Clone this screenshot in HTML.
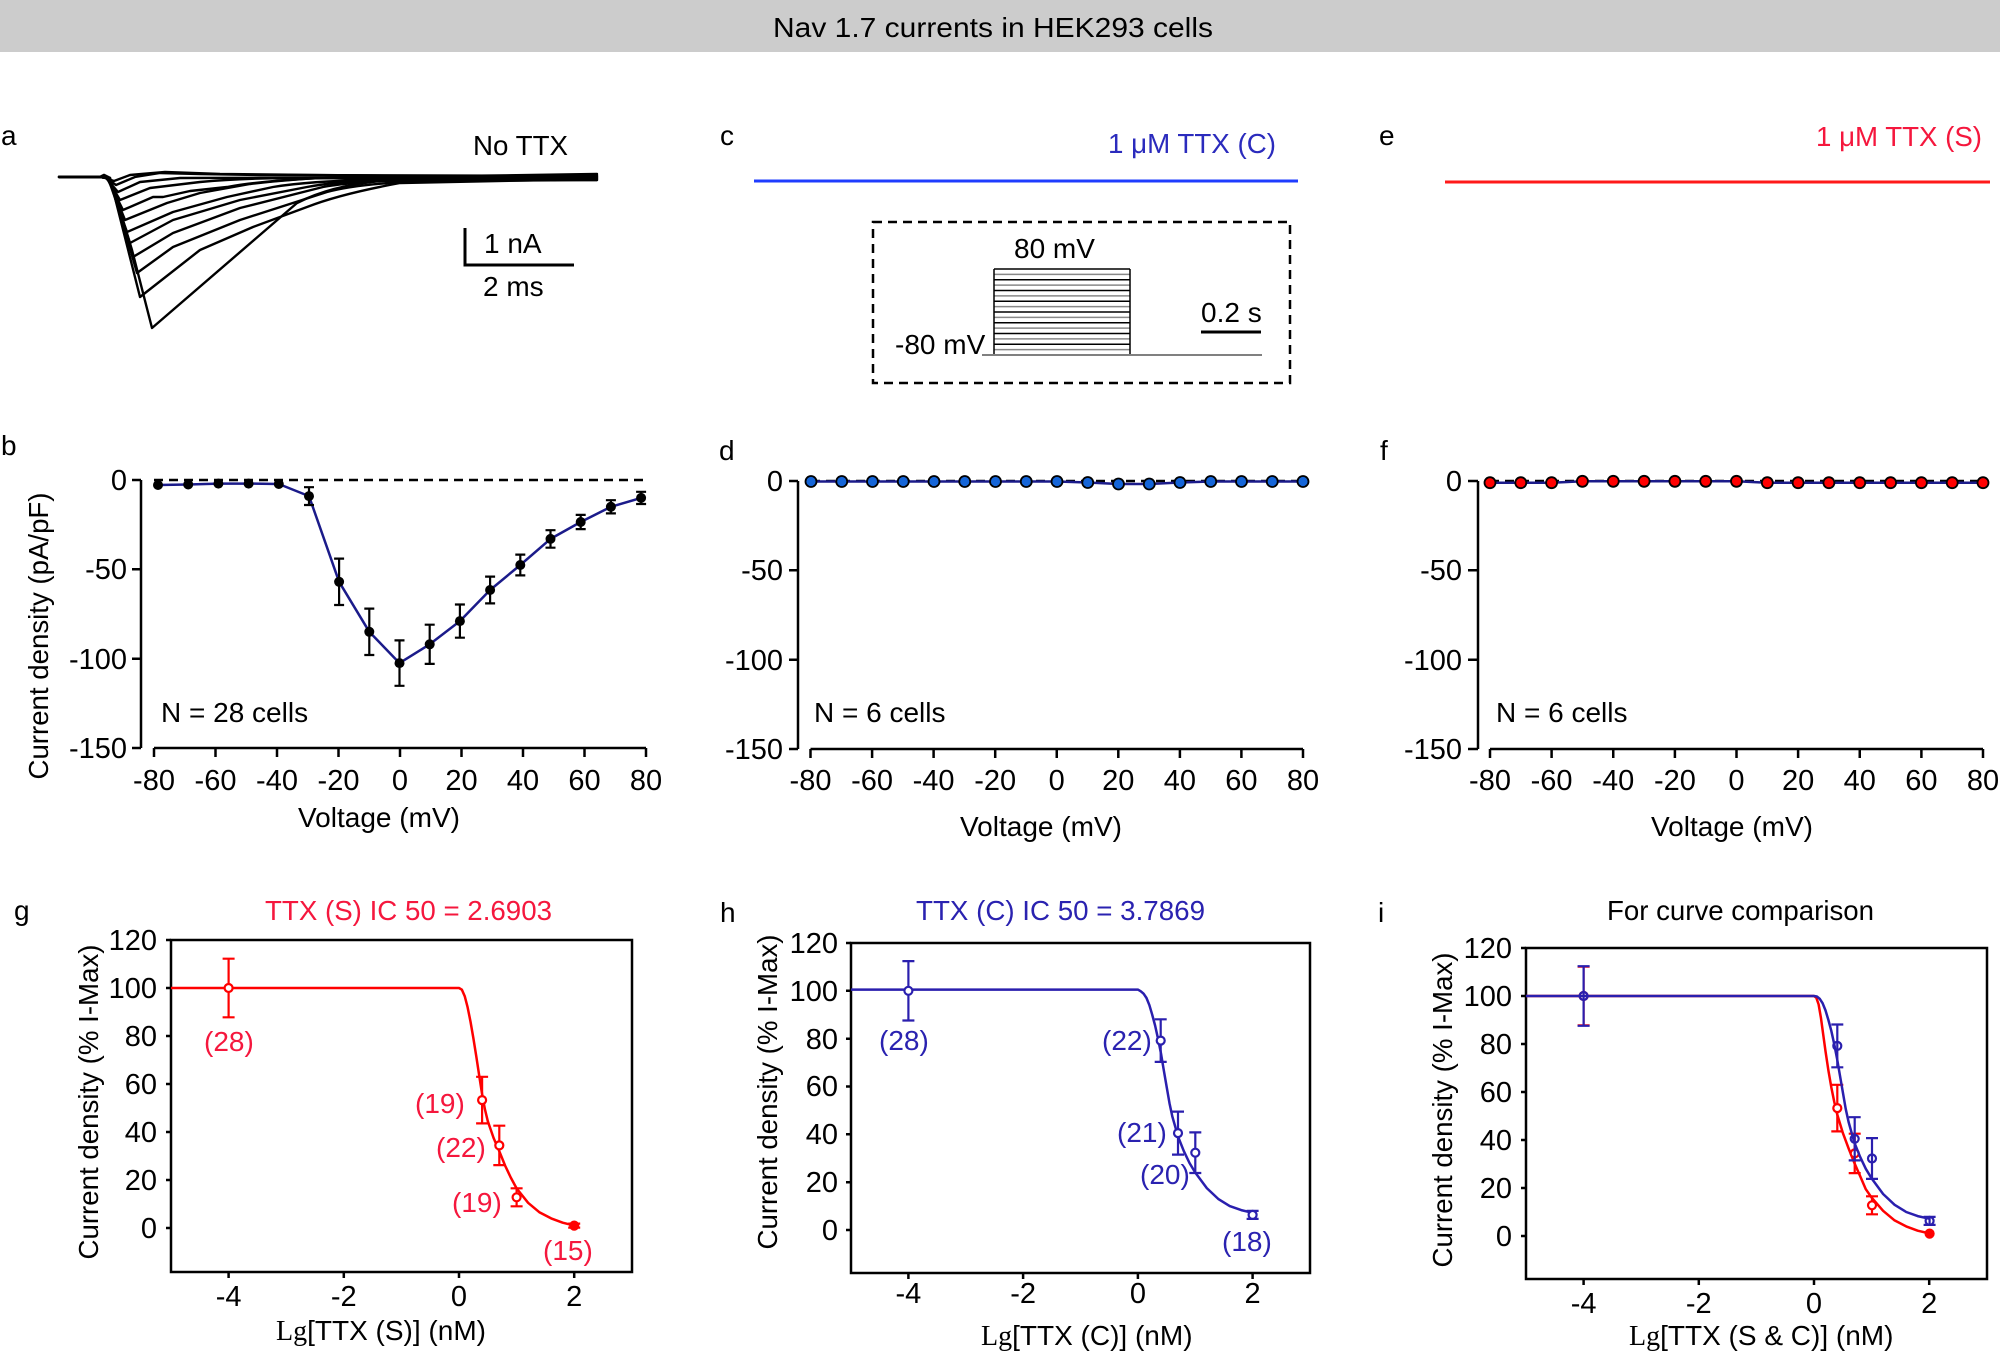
<!DOCTYPE html>
<html>
<head>
<meta charset="utf-8">
<style>
html,body{margin:0;padding:0;background:#fff;}
svg{display:block;}
text{font-family:"Liberation Sans",Arial,sans-serif;font-size:28px;fill:#000;}
.tk{font-size:29px;}
.s{font-family:"Liberation Serif","Times New Roman",serif;}
.ax{stroke:#000;stroke-width:2.5;fill:none;}
.tr{stroke:#000;stroke-width:2.4;fill:none;stroke-linejoin:round;stroke-linecap:round;}
.eb{stroke:#000;stroke-width:2.2;fill:none;}
</style>
</head>
<body>
<svg width="2000" height="1355" viewBox="0 0 2000 1355" xmlns="http://www.w3.org/2000/svg">
<rect x="0" y="0" width="2000" height="1355" fill="#fff"/>
<!-- Header -->
<rect x="0" y="0" width="2000" height="52" fill="#cccccc"/>
<text x="773" y="37" font-size="29" textLength="440" lengthAdjust="spacingAndGlyphs">Nav 1.7 currents in HEK293 cells</text>

<!-- ============ Panel a ============ -->
<text x="1" y="145">a</text>
<text x="473" y="155" textLength="95" lengthAdjust="spacingAndGlyphs">No TTX</text>
<g class="tr">
<path d="M59,177 L100,177 L104,175 L110,178 L132,250 L152,328 L297,203 Q330,186 380,181 L597,177"/>
<path d="M59,177 L100,177 L104,175 L110,178 L140,297 L200,250 L253,227 L307,207 Q340,194 400,183 L597,179"/>
<path d="M59,177 L100,177 L110,178 L137,273 L173,247 L240,220 L327,192 Q360,183 430,181 L597,180"/>
<path d="M59,177 L100,177 L109,178 L133,257 L173,233 L240,208 L323,187 Q350,182 420,179 L597,178"/>
<path d="M59,177 L100,177 L109,178 L130,243 L173,220 L240,200 L307,187 Q340,181 400,178 L597,176"/>
<path d="M59,177 L100,177 L108,178 L127,232 L173,212 L227,197 L273,187 Q310,181 370,180 L597,179"/>
<path d="M59,177 L100,177 L108,178 L125,220 L167,203 L200,193 L250,184 Q290,179 340,177 L597,175"/>
<path d="M59,177 L100,177 L107,178 L123,210 L153,197 L163,197 L190,191 L227,187 Q260,181 320,178 L597,174"/>
<path d="M59,177 L100,177 L107,178 L120,200 L150,188 L200,182 Q240,178 300,178 L597,180"/>
<path d="M59,177 L100,177 L106,178 L118,192 L140,182 L180,178 L597,177"/>
<path d="M59,177 L100,177 L106,178 L116,185 L135,177 L160,173 L200,174 L260,175 L597,176"/>
<path d="M59,177 L100,177 L105,178 L114,181 L130,175 L165,172 L220,174 L597,178"/>
</g>
<path d="M465,228 L465,265 L574,265" stroke="#000" stroke-width="3" fill="none"/>
<text x="484" y="253">1 nA</text>
<text x="483" y="296">2 ms</text>

<!-- ============ Panel c ============ -->
<text x="720" y="145">c</text>
<text x="1108" y="153" style="fill:#2b2bbd" textLength="168" lengthAdjust="spacingAndGlyphs">1 μM TTX (C)</text>
<line x1="754" y1="181" x2="1298" y2="181" stroke="#1f3cff" stroke-width="3"/>
<rect x="873" y="222" width="417" height="161" fill="none" stroke="#000" stroke-width="2.5" stroke-dasharray="9 6"/>
<g stroke-width="1.5">
<line x1="994" y1="269" x2="1130" y2="269" stroke="#000"/>
<line x1="994" y1="274.4" x2="1130" y2="274.4" stroke="#888"/>
<line x1="994" y1="279.75" x2="1130" y2="279.75" stroke="#000"/>
<line x1="994" y1="285.1" x2="1130" y2="285.1" stroke="#888"/>
<line x1="994" y1="290.5" x2="1130" y2="290.5" stroke="#000"/>
<line x1="994" y1="295.9" x2="1130" y2="295.9" stroke="#888"/>
<line x1="994" y1="301.25" x2="1130" y2="301.25" stroke="#000"/>
<line x1="994" y1="306.6" x2="1130" y2="306.6" stroke="#888"/>
<line x1="994" y1="312" x2="1130" y2="312" stroke="#000"/>
<line x1="994" y1="317.4" x2="1130" y2="317.4" stroke="#888"/>
<line x1="994" y1="322.75" x2="1130" y2="322.75" stroke="#000"/>
<line x1="994" y1="328.1" x2="1130" y2="328.1" stroke="#888"/>
<line x1="994" y1="333.5" x2="1130" y2="333.5" stroke="#000"/>
<line x1="994" y1="338.9" x2="1130" y2="338.9" stroke="#888"/>
<line x1="994" y1="344.25" x2="1130" y2="344.25" stroke="#000"/>
<line x1="994" y1="349.6" x2="1130" y2="349.6" stroke="#888"/>
<line x1="994" y1="269" x2="994" y2="355" stroke="#000"/>
<line x1="1130" y1="269" x2="1130" y2="355" stroke="#000"/>
</g>
<line x1="982" y1="355" x2="1262" y2="355" stroke="#808080" stroke-width="2"/>
<text x="1014" y="258">80 mV</text>
<text x="895" y="354">-80 mV</text>
<text x="1201" y="322">0.2 s</text>
<line x1="1201" y1="332" x2="1261" y2="332" stroke="#000" stroke-width="3"/>

<!-- ============ Panel e ============ -->
<text x="1379" y="145">e</text>
<text x="1816" y="146" style="fill:#f5173d" textLength="166" lengthAdjust="spacingAndGlyphs">1 μM TTX (S)</text>
<line x1="1445" y1="182" x2="1990" y2="182" stroke="#ff1a1a" stroke-width="3"/>

<!-- ============ Panel b ============ -->
<text x="1" y="455">b</text>
<path class="ax" d="M141,480 L141,748 M132,480 L141,480 M132,569.3 L141,569.3 M132,658.7 L141,658.7 M132,748 L141,748"/>
<g text-anchor="end" class="tk">
<text class="tk" x="127" y="490">0</text>
<text class="tk" x="127" y="579">-50</text>
<text class="tk" x="127" y="669">-100</text>
<text class="tk" x="127" y="758">-150</text>
</g>
<path class="ax" d="M154,748 L646,748 M154,748 L154,757 M215.5,748 L215.5,757 M277,748 L277,757 M338.5,748 L338.5,757 M400,748 L400,757 M461.5,748 L461.5,757 M523,748 L523,757 M584.5,748 L584.5,757 M646,748 L646,757"/>
<g text-anchor="middle">
<text class="tk" x="154" y="790">-80</text>
<text class="tk" x="215.5" y="790">-60</text>
<text class="tk" x="277" y="790">-40</text>
<text class="tk" x="338.5" y="790">-20</text>
<text class="tk" x="400" y="790">0</text>
<text class="tk" x="461.5" y="790">20</text>
<text class="tk" x="523" y="790">40</text>
<text class="tk" x="584.5" y="790">60</text>
<text class="tk" x="646" y="790">80</text>
</g>
<text x="298" y="827" textLength="162" lengthAdjust="spacingAndGlyphs">Voltage (mV)</text>
<text transform="translate(48,636) rotate(-90)" text-anchor="middle" textLength="287" lengthAdjust="spacingAndGlyphs">Current density (pA/pF)</text>
<line x1="154" y1="480" x2="646" y2="480" stroke="#000" stroke-width="2.5" stroke-dasharray="9 6"/>
<polyline fill="none" stroke="#1b1b8a" stroke-width="2.5" stroke-linejoin="round" points="158,485 188.2,484.5 218.4,483.6 248.6,483.6 278.8,484 309,496.1 339.1,581.8 369.3,631.8 399.5,663.1 429.7,644.3 459.9,621.1 490.1,590 520.3,565 550.5,538.9 580.7,522 610.9,506.8 641.1,497.9"/>
<path class="eb" d="M309,487.2 L309,505 M304,487.2 L314,487.2 M304,505 L314,505
M339.1,558.6 L339.1,605 M334.1,558.6 L344.1,558.6 M334.1,605 L344.1,605
M369.3,608.6 L369.3,655 M364.3,608.6 L374.3,608.6 M364.3,655 L374.3,655
M399.5,640.4 L399.5,685.8 M394.5,640.4 L404.5,640.4 M394.5,685.8 L404.5,685.8
M429.7,624.7 L429.7,663.9 M424.7,624.7 L434.7,624.7 M424.7,663.9 L434.7,663.9
M459.9,604.5 L459.9,637.7 M454.9,604.5 L464.9,604.5 M454.9,637.7 L464.9,637.7
M490.1,576.6 L490.1,603.4 M485.1,576.6 L495.1,576.6 M485.1,603.4 L495.1,603.4
M520.3,554.6 L520.3,575.4 M515.3,554.6 L525.3,554.6 M515.3,575.4 L525.3,575.4
M550.5,530.2 L550.5,547.7 M545.5,530.2 L555.5,530.2 M545.5,547.7 L555.5,547.7
M580.7,514.9 L580.7,529.1 M575.7,514.9 L585.7,514.9 M575.7,529.1 L585.7,529.1
M610.9,500.2 L610.9,513.4 M605.9,500.2 L615.9,500.2 M605.9,513.4 L615.9,513.4
M641.1,491.8 L641.1,504 M636.1,491.8 L646.1,491.8 M636.1,504 L646.1,504"/>
<g fill="#000">
<circle cx="158" cy="485" r="5"/><circle cx="188.2" cy="484.5" r="5"/><circle cx="218.4" cy="483.6" r="5"/><circle cx="248.6" cy="483.6" r="5"/><circle cx="278.8" cy="484" r="5"/><circle cx="309" cy="496.1" r="5"/><circle cx="339.1" cy="581.8" r="5"/><circle cx="369.3" cy="631.8" r="5"/><circle cx="399.5" cy="663.1" r="5"/><circle cx="429.7" cy="644.3" r="5"/><circle cx="459.9" cy="621.1" r="5"/><circle cx="490.1" cy="590" r="5"/><circle cx="520.3" cy="565" r="5"/><circle cx="550.5" cy="538.9" r="5"/><circle cx="580.7" cy="522" r="5"/><circle cx="610.9" cy="506.8" r="5"/><circle cx="641.1" cy="497.9" r="5"/>
</g>
<text x="161" y="722">N = 28 cells</text>

<!-- ============ Panel d ============ -->
<text x="719" y="460">d</text>
<path class="ax" d="M798,481 L798,749 M789,481 L798,481 M789,570.3 L798,570.3 M789,659.7 L798,659.7 M789,749 L798,749"/>
<g text-anchor="end">
<text class="tk" x="783" y="491">0</text>
<text class="tk" x="783" y="580">-50</text>
<text class="tk" x="783" y="670">-100</text>
<text class="tk" x="783" y="759">-150</text>
</g>
<path class="ax" d="M810.5,749 L1303,749 M810.5,749 L810.5,758 M872.1,749 L872.1,758 M933.6,749 L933.6,758 M995.2,749 L995.2,758 M1056.75,749 L1056.75,758 M1118.3,749 L1118.3,758 M1179.9,749 L1179.9,758 M1241.4,749 L1241.4,758 M1303,749 L1303,758"/>
<g text-anchor="middle">
<text class="tk" x="810.5" y="790">-80</text>
<text class="tk" x="872.1" y="790">-60</text>
<text class="tk" x="933.6" y="790">-40</text>
<text class="tk" x="995.2" y="790">-20</text>
<text class="tk" x="1056.75" y="790">0</text>
<text class="tk" x="1118.3" y="790">20</text>
<text class="tk" x="1179.9" y="790">40</text>
<text class="tk" x="1241.4" y="790">60</text>
<text class="tk" x="1303" y="790">80</text>
</g>
<text x="960" y="836" textLength="162" lengthAdjust="spacingAndGlyphs">Voltage (mV)</text>
<line x1="811" y1="481" x2="1303" y2="481" stroke="#000" stroke-width="2.5" stroke-dasharray="9 6"/>
<polyline fill="none" stroke="#1b1b8a" stroke-width="2.5" points="811,481.5 841.75,481.5 872.5,481.5 903.25,481.5 934,481.5 964.75,481.5 995.5,481.5 1026.25,481.5 1057,481.5 1087.75,482.5 1118.5,484 1149.25,484 1180,482.5 1210.75,481.5 1241.5,481.5 1272.25,481.5 1303,481.5"/>
<g fill="#1565d8" stroke="#000" stroke-width="1.8">
<circle cx="811" cy="481.5" r="5.5"/><circle cx="841.75" cy="481.5" r="5.5"/><circle cx="872.5" cy="481.5" r="5.5"/><circle cx="903.25" cy="481.5" r="5.5"/><circle cx="934" cy="481.5" r="5.5"/><circle cx="964.75" cy="481.5" r="5.5"/><circle cx="995.5" cy="481.5" r="5.5"/><circle cx="1026.25" cy="481.5" r="5.5"/><circle cx="1057" cy="481.5" r="5.5"/><circle cx="1087.75" cy="482.5" r="5.5"/><circle cx="1118.5" cy="484" r="5.5"/><circle cx="1149.25" cy="484" r="5.5"/><circle cx="1180" cy="482.5" r="5.5"/><circle cx="1210.75" cy="481.5" r="5.5"/><circle cx="1241.5" cy="481.5" r="5.5"/><circle cx="1272.25" cy="481.5" r="5.5"/><circle cx="1303" cy="481.5" r="5.5"/>
</g>
<text x="814" y="722">N = 6 cells</text>

<!-- ============ Panel f ============ -->
<text x="1380" y="460">f</text>
<path class="ax" d="M1478,481 L1478,749 M1468,481 L1478,481 M1468,570.3 L1478,570.3 M1468,659.7 L1478,659.7 M1468,749 L1478,749"/>
<g text-anchor="end">
<text class="tk" x="1462" y="491">0</text>
<text class="tk" x="1462" y="580">-50</text>
<text class="tk" x="1462" y="670">-100</text>
<text class="tk" x="1462" y="759">-150</text>
</g>
<path class="ax" d="M1490,749 L1983,749 M1490,749 L1490,758 M1551.6,749 L1551.6,758 M1613.25,749 L1613.25,758 M1674.9,749 L1674.9,758 M1736.5,749 L1736.5,758 M1798.1,749 L1798.1,758 M1859.75,749 L1859.75,758 M1921.4,749 L1921.4,758 M1983,749 L1983,758"/>
<g text-anchor="middle">
<text class="tk" x="1490" y="790">-80</text>
<text class="tk" x="1551.6" y="790">-60</text>
<text class="tk" x="1613.25" y="790">-40</text>
<text class="tk" x="1674.9" y="790">-20</text>
<text class="tk" x="1736.5" y="790">0</text>
<text class="tk" x="1798.1" y="790">20</text>
<text class="tk" x="1859.75" y="790">40</text>
<text class="tk" x="1921.4" y="790">60</text>
<text class="tk" x="1983" y="790">80</text>
</g>
<text x="1651" y="836" textLength="162" lengthAdjust="spacingAndGlyphs">Voltage (mV)</text>
<line x1="1490" y1="481" x2="1983" y2="481" stroke="#000" stroke-width="2.5" stroke-dasharray="9 6"/>
<polyline fill="none" stroke="#1b1b8a" stroke-width="2.5" points="1490,482.7 1520.8,482.7 1551.6,482.7 1582.4,481.3 1613.25,481.3 1644.1,481.3 1674.9,481.3 1705.7,481.3 1736.5,481.3 1767.3,482.7 1798.1,482.7 1828.9,482.7 1859.75,482.7 1890.6,482.7 1921.4,482.7 1952.2,482.7 1983,482.7"/>
<g fill="#ff0000" stroke="#000" stroke-width="1.8">
<circle cx="1490" cy="482.7" r="5.5"/><circle cx="1520.8" cy="482.7" r="5.5"/><circle cx="1551.6" cy="482.7" r="5.5"/><circle cx="1582.4" cy="481.3" r="5.5"/><circle cx="1613.25" cy="481.3" r="5.5"/><circle cx="1644.1" cy="481.3" r="5.5"/><circle cx="1674.9" cy="481.3" r="5.5"/><circle cx="1705.7" cy="481.3" r="5.5"/><circle cx="1736.5" cy="481.3" r="5.5"/><circle cx="1767.3" cy="482.7" r="5.5"/><circle cx="1798.1" cy="482.7" r="5.5"/><circle cx="1828.9" cy="482.7" r="5.5"/><circle cx="1859.75" cy="482.7" r="5.5"/><circle cx="1890.6" cy="482.7" r="5.5"/><circle cx="1921.4" cy="482.7" r="5.5"/><circle cx="1952.2" cy="482.7" r="5.5"/><circle cx="1983" cy="482.7" r="5.5"/>
</g>
<text x="1496" y="722">N = 6 cells</text>

<!-- ============ Panel g ============ -->
<text x="14" y="920">g</text>
<text x="265" y="920" style="fill:#f5173d" textLength="287" lengthAdjust="spacingAndGlyphs">TTX (S) IC 50 = 2.6903</text>
<rect x="171" y="940" width="461" height="332" class="ax"/>
<path class="ax" d="M166,940 L171,940 M166,988 L171,988 M166,1036 L171,1036 M166,1084 L171,1084 M166,1132 L171,1132 M166,1180 L171,1180 M166,1228 L171,1228 M228.6,1272 L228.6,1278 M343.8,1272 L343.8,1278 M459,1272 L459,1278 M574.2,1272 L574.2,1278"/>
<g text-anchor="end">
<text class="tk" x="157" y="950">120</text>
<text class="tk" x="157" y="998">100</text>
<text class="tk" x="157" y="1046">80</text>
<text class="tk" x="157" y="1094">60</text>
<text class="tk" x="157" y="1142">40</text>
<text class="tk" x="157" y="1190">20</text>
<text class="tk" x="157" y="1238">0</text>
</g>
<g text-anchor="middle">
<text class="tk" x="228.6" y="1306">-4</text>
<text class="tk" x="343.8" y="1306">-2</text>
<text class="tk" x="459" y="1306">0</text>
<text class="tk" x="574.2" y="1306">2</text>
</g>
<text x="276" y="1340"><tspan class="s">Lg</tspan>[TTX (S)] (nM)</text>
<text transform="translate(98,1102) rotate(-90)" text-anchor="middle" textLength="315" lengthAdjust="spacingAndGlyphs">Current density (% I-Max)</text>
<polyline fill="none" stroke="#ff0000" stroke-width="2.5" stroke-linejoin="round" points="171,988 459,988 461.9,989.7 464.8,996.4 467.6,1007.2 470.5,1021.6 473.4,1038.4 476.3,1056.4 479.2,1075.6 482,1093.6 484.9,1109.2 487.8,1121.2 493.6,1138 499.3,1151.2 505.1,1165.6 510.8,1177.6 516.6,1188.4 528.1,1202.8 539.6,1212.4 551.2,1218.4 562.7,1222.7 574.2,1225.6"/>
<path fill="none" stroke="#ff0000" stroke-width="2.2" d="M228.6,958.7 L228.6,1017.3 M222.6,958.7 L234.6,958.7 M222.6,1017.3 L234.6,1017.3
M482.1,1076.8 L482.1,1123.4 M476.1,1076.8 L488.1,1076.8 M476.1,1123.4 L488.1,1123.4
M499.3,1125.7 L499.3,1165.1 M493.3,1125.7 L505.3,1125.7 M493.3,1165.1 L505.3,1165.1
M516.6,1188.3 L516.6,1206.3 M510.6,1188.3 L522.6,1188.3 M510.6,1206.3 L522.6,1206.3
M574.2,1223.6 L574.2,1227.6 M568.2,1223.6 L580.2,1223.6 M568.2,1227.6 L580.2,1227.6"/>
<g fill="#fff" stroke="#ff0000" stroke-width="2.2">
<circle cx="228.6" cy="988" r="4"/><circle cx="482.1" cy="1100.1" r="4"/><circle cx="499.3" cy="1145.4" r="4"/><circle cx="516.6" cy="1197.3" r="4"/><circle cx="574.2" cy="1225.6" r="4" fill="#ff0000"/>
</g>
<text x="204" y="1051" style="fill:#f5173d">(28)</text>
<text x="415" y="1113" style="fill:#f5173d">(19)</text>
<text x="436" y="1157" style="fill:#f5173d">(22)</text>
<text x="452" y="1212" style="fill:#f5173d">(19)</text>
<text x="543" y="1260" style="fill:#f5173d">(15)</text>

<!-- ============ Panel h ============ -->
<text x="720" y="922">h</text>
<text x="916" y="920" style="fill:#2a22b0" textLength="289" lengthAdjust="spacingAndGlyphs">TTX (C) IC 50 = 3.7869</text>
<rect x="851" y="943" width="459" height="330" class="ax"/>
<path class="ax" d="M846,943 L851,943 M846,990.8 L851,990.8 M846,1038.7 L851,1038.7 M846,1086.5 L851,1086.5 M846,1134.3 L851,1134.3 M846,1182.2 L851,1182.2 M846,1230 L851,1230 M908.4,1273 L908.4,1279 M1023.1,1273 L1023.1,1279 M1137.9,1273 L1137.9,1279 M1252.6,1273 L1252.6,1279"/>
<g text-anchor="end">
<text class="tk" x="838" y="953">120</text>
<text class="tk" x="838" y="1001">100</text>
<text class="tk" x="838" y="1049">80</text>
<text class="tk" x="838" y="1096">60</text>
<text class="tk" x="838" y="1144">40</text>
<text class="tk" x="838" y="1192">20</text>
<text class="tk" x="838" y="1240">0</text>
</g>
<g text-anchor="middle">
<text class="tk" x="908.4" y="1303">-4</text>
<text class="tk" x="1023.1" y="1303">-2</text>
<text class="tk" x="1137.9" y="1303">0</text>
<text class="tk" x="1252.6" y="1303">2</text>
</g>
<text x="981" y="1345"><tspan class="s">Lg</tspan>[TTX (C)] (nM)</text>
<text transform="translate(777,1092) rotate(-90)" text-anchor="middle" textLength="315" lengthAdjust="spacingAndGlyphs">Current density (% I-Max)</text>
<polyline fill="none" stroke="#2a1fae" stroke-width="2.5" stroke-linejoin="round" points="851,989.6 1137.9,989.6 1140.8,991.3 1143.6,993.7 1146.5,998 1149.4,1005.2 1152.2,1014.7 1155.1,1025.5 1158,1038.6 1160.9,1053 1163.7,1069.7 1166.6,1086.5 1169.5,1103.2 1172.3,1116.4 1178.1,1136.7 1183.8,1151.1 1189.5,1163 1195.3,1172.6 1206.8,1188.1 1218.2,1198.9 1229.7,1206.1 1241.2,1210.1 1252.6,1212.8"/>
<path fill="none" stroke="#2a1fae" stroke-width="2.2" d="M908.4,961.1 L908.4,1020.5 M902.4,961.1 L914.4,961.1 M902.4,1020.5 L914.4,1020.5
M1160.7,1019.3 L1160.7,1061.9 M1154.7,1019.3 L1166.7,1019.3 M1154.7,1061.9 L1166.7,1061.9
M1178,1111.6 L1178,1154.6 M1172,1111.6 L1184,1111.6 M1172,1154.6 L1184,1154.6
M1195.3,1132.4 L1195.3,1173 M1189.3,1132.4 L1201.3,1132.4 M1189.3,1173 L1201.3,1173
M1252.6,1210.9 L1252.6,1218.9 M1246.6,1210.9 L1258.6,1210.9 M1246.6,1218.9 L1258.6,1218.9"/>
<g fill="#fff" stroke="#2a1fae" stroke-width="2.2">
<circle cx="908.4" cy="990.8" r="4"/><circle cx="1160.7" cy="1040.6" r="4"/><circle cx="1178" cy="1133.1" r="4"/><circle cx="1195.3" cy="1152.7" r="4"/><circle cx="1252.6" cy="1214.9" r="4"/>
</g>
<text x="879" y="1050" style="fill:#2a22b0">(28)</text>
<text x="1102" y="1050" style="fill:#2a22b0">(22)</text>
<text x="1117" y="1142" style="fill:#2a22b0">(21)</text>
<text x="1140" y="1184" style="fill:#2a22b0">(20)</text>
<text x="1222" y="1251" style="fill:#2a22b0">(18)</text>

<!-- ============ Panel i ============ -->
<text x="1378" y="922">i</text>
<text x="1607" y="920" textLength="267" lengthAdjust="spacingAndGlyphs">For curve comparison</text>
<rect x="1526" y="948" width="461" height="331" class="ax"/>
<path class="ax" d="M1521,948 L1526,948 M1521,996 L1526,996 M1521,1044 L1526,1044 M1521,1092 L1526,1092 M1521,1140 L1526,1140 M1521,1188 L1526,1188 M1521,1236 L1526,1236 M1583.6,1279 L1583.6,1285 M1698.8,1279 L1698.8,1285 M1814,1279 L1814,1285 M1929.2,1279 L1929.2,1285"/>
<g text-anchor="end">
<text class="tk" x="1512" y="958">120</text>
<text class="tk" x="1512" y="1006">100</text>
<text class="tk" x="1512" y="1054">80</text>
<text class="tk" x="1512" y="1102">60</text>
<text class="tk" x="1512" y="1150">40</text>
<text class="tk" x="1512" y="1198">20</text>
<text class="tk" x="1512" y="1246">0</text>
</g>
<g text-anchor="middle">
<text class="tk" x="1583.6" y="1313">-4</text>
<text class="tk" x="1698.8" y="1313">-2</text>
<text class="tk" x="1814" y="1313">0</text>
<text class="tk" x="1929.2" y="1313">2</text>
</g>
<text x="1629" y="1345"><tspan class="s">Lg</tspan>[TTX (S &amp; C)] (nM)</text>
<text transform="translate(1452,1110) rotate(-90)" text-anchor="middle" textLength="315" lengthAdjust="spacingAndGlyphs">Current density (% I-Max)</text>
<!-- red -->
<polyline fill="none" stroke="#ff0000" stroke-width="2.5" stroke-linejoin="round" points="1526,996 1814,996 1816.3,997.7 1818.6,1004.4 1820.9,1017.6 1823.2,1034.4 1825.5,1051.2 1828.4,1070.4 1831.3,1087.2 1834.2,1101.6 1837,1113.6 1842.8,1132.8 1848.6,1148.4 1854.3,1162.8 1860.1,1176 1865.8,1189.2 1871.6,1197.6 1883.1,1210.8 1894.6,1220.4 1906.2,1226.4 1917.7,1230.7 1929.2,1233.4"/>
<path fill="none" stroke="#ff0000" stroke-width="2.2" d="M1583.6,966.7 L1583.6,1025.3 M1577.6,966.7 L1589.6,966.7 M1577.6,1025.3 L1589.6,1025.3
M1837.3,1084.8 L1837.3,1131.4 M1831.3,1084.8 L1843.3,1084.8 M1831.3,1131.4 L1843.3,1131.4
M1854.7,1133.7 L1854.7,1173.1 M1848.7,1133.7 L1860.7,1133.7 M1848.7,1173.1 L1860.7,1173.1
M1872,1196.3 L1872,1214.3 M1866,1196.3 L1878,1196.3 M1866,1214.3 L1878,1214.3"/>
<g fill="#fff" stroke="#ff0000" stroke-width="2.2">
<circle cx="1583.6" cy="996" r="4"/><circle cx="1837.3" cy="1108.1" r="4"/><circle cx="1854.7" cy="1153.4" r="4"/><circle cx="1872" cy="1205.3" r="4"/><circle cx="1929.6" cy="1233.6" r="4" fill="#ff0000"/>
</g>
<!-- blue -->
<polyline fill="none" stroke="#2a1fae" stroke-width="2.5" stroke-linejoin="round" points="1526,996 1814,996 1816.9,996.5 1819.8,998.9 1822.6,1003.2 1825.5,1010.4 1828.4,1020 1831.3,1030.8 1834.2,1044 1837,1058.4 1839.9,1075.2 1842.8,1092 1845.7,1108.8 1848.6,1122 1854.3,1142.4 1860.1,1156.8 1865.8,1168.8 1871.6,1178.4 1883.1,1194 1894.6,1204.8 1906.2,1212 1917.7,1216.1 1929.2,1218.7"/>
<path fill="none" stroke="#2a1fae" stroke-width="2.2" d="M1583.6,966.2 L1583.6,1025.8 M1577.6,966.2 L1589.6,966.2 M1577.6,1025.8 L1589.6,1025.8
M1837.3,1024.5 L1837.3,1067.3 M1831.3,1024.5 L1843.3,1024.5 M1831.3,1067.3 L1843.3,1067.3
M1854.7,1117.2 L1854.7,1160.4 M1848.7,1117.2 L1860.7,1117.2 M1848.7,1160.4 L1860.7,1160.4
M1872,1138.1 L1872,1178.9 M1866,1138.1 L1878,1138.1 M1866,1178.9 L1878,1178.9
M1929.6,1216.9 L1929.6,1224.9 M1923.6,1216.9 L1935.6,1216.9 M1923.6,1224.9 L1935.6,1224.9"/>
<g fill="none" stroke="#2a1fae" stroke-width="2.2">
<circle cx="1583.6" cy="996" r="4"/><circle cx="1837.3" cy="1045.9" r="4"/><circle cx="1854.7" cy="1138.8" r="4"/><circle cx="1872" cy="1158.5" r="4"/><circle cx="1929.6" cy="1220.9" r="4"/>
</g>
</svg>
</body>
</html>
